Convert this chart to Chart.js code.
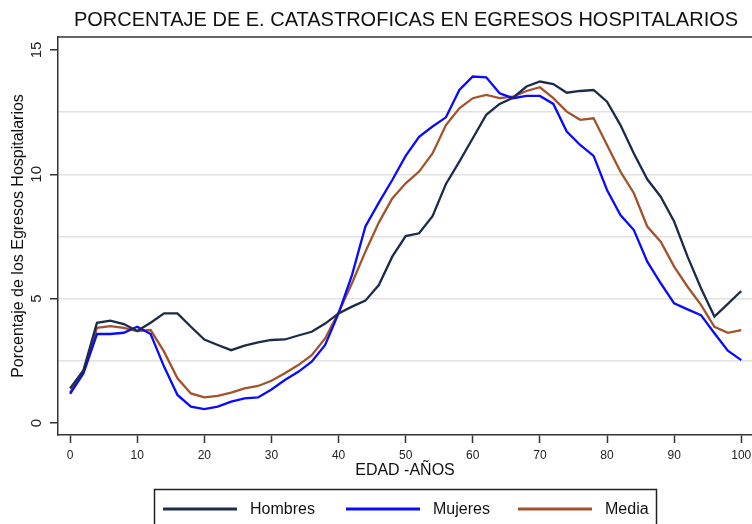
<!DOCTYPE html>
<html>
<head>
<meta charset="utf-8">
<script src="https://cdn.jsdelivr.net/npm/chart.js@4/dist/chart.umd.min.js"></script>
<style>
  html, body { margin: 0; padding: 0; background: #fff; overflow: hidden; }
  #wrap { width: 752px; height: 524px; }
  canvas { display: block; }
</style>
</head>
<body>
<div id="wrap"><canvas id="chart" width="752" height="524"></canvas></div>
<script>
const TITLE = "PORCENTAJE DE E. CATASTROFICAS EN EGRESOS HOSPITALARIOS";
const AGES = [0, 2, 4, 6, 8, 10, 12, 14, 16, 18, 20, 22, 24, 26, 28, 30, 32, 34, 36, 38, 40,
    42, 44, 46, 48, 50, 52, 54, 56, 58, 60, 62, 64, 66, 68, 70, 72, 74, 76, 78, 80,
    82, 84, 86, 88, 90, 92, 94, 96, 98, 100];
const HOMBRES = [1.39, 2.13, 4.03, 4.12, 3.98, 3.70, 4.03, 4.41, 4.41, 3.87, 3.36, 3.14, 2.93,
    3.11, 3.24, 3.34, 3.36, 3.52, 3.67, 4.0, 4.41, 4.68, 4.92, 5.55, 6.69, 7.52, 7.63, 8.32,
    9.61, 10.51, 11.45, 12.39, 12.83, 13.08, 13.53, 13.73, 13.63, 13.28, 13.35, 13.39, 12.92,
    11.98, 10.84, 9.8, 9.1, 8.1, 6.69, 5.42, 4.28, 4.79, 5.31];
const MUJERES = [1.17, 2.0, 3.58, 3.58, 3.63, 3.87, 3.58, 2.27, 1.13, 0.66, 0.56, 0.66, 0.86,
    0.99, 1.03, 1.35, 1.73, 2.06, 2.47, 3.14, 4.41, 5.95, 7.9, 8.86, 9.77, 10.74, 11.51, 11.92,
    12.29, 13.39, 13.93, 13.9, 13.26, 13.06, 13.15, 13.15, 12.83, 11.72, 11.18, 10.74, 9.37,
    8.36, 7.76, 6.49, 5.62, 4.81, 4.57, 4.34, 3.61, 2.91, 2.53];
const MEDIA = [1.22, 2.1, 3.83, 3.9, 3.83, 3.70, 3.74, 2.87, 1.8, 1.19, 1.03, 1.09, 1.22,
    1.39, 1.49, 1.7, 2.0, 2.33, 2.73, 3.4, 4.44, 5.62, 6.89, 8.06, 9.03, 9.64, 10.11, 10.84,
    11.98, 12.65, 13.06, 13.19, 13.06, 13.12, 13.35, 13.5, 13.06, 12.52, 12.19, 12.25, 11.18,
    10.11, 9.24, 7.9, 7.29, 6.29, 5.48, 4.75, 3.87, 3.63, 3.74];
const X_TICKS = [0, 10, 20, 30, 40, 50, 60, 70, 80, 90, 100];
const Y_GRID = [0, 2.5, 5, 7.5, 10, 12.5, 15];
const Y_LABELS = [0, 5, 10, 15];

const FONT = "'Liberation Sans', Arial, sans-serif";
const AXIS = "#333333";

function pts(vals) {
    return AGES.map(function (a, i) { return { x: a, y: vals[i] }; });
}

function line(label, vals, color) {
    return {
        label: label,
        data: pts(vals),
        borderColor: color,
        backgroundColor: color,
        borderWidth: 2.3,
        pointRadius: 0,
        tension: 0,
        fill: false,
    };
}

function noPad(s) {
    s.paddingLeft = 0;
    s.paddingRight = 0;
    s.paddingTop = 0;
    s.paddingBottom = 0;
}

// title, frame, rotated y labels and the boxed legend
const extras = {
    id: "extras",
    afterDraw: function (chart) {
        const ctx = chart.ctx;
        const area = chart.chartArea;
        const ys = chart.scales.y;
        ctx.save();

        ctx.strokeStyle = AXIS;
        ctx.lineWidth = 1.5;
        ctx.beginPath();
        ctx.moveTo(area.left, area.top);
        ctx.lineTo(area.right, area.top);
        ctx.stroke();

        ctx.fillStyle = "#111";
        ctx.font = "20px " + FONT;
        ctx.textAlign = "center";
        ctx.textBaseline = "middle";
        ctx.fillText(TITLE, 406, 20);

        ctx.font = "15px " + FONT;
        ctx.fillStyle = "#222";
        Y_LABELS.forEach(function (v) {
            ctx.save();
            ctx.translate(37, ys.getPixelForValue(v));
            ctx.rotate(-Math.PI / 2);
            ctx.fillText(String(v), 0, 0);
            ctx.restore();
        });

        // legend
        ctx.strokeStyle = "#222";
        ctx.lineWidth = 1.5;
        ctx.strokeRect(154.5, 489.5, 502, 50);
        const slots = [163, 346, 518];
        ctx.font = "16px " + FONT;
        ctx.textAlign = "left";
        chart.data.datasets.forEach(function (ds, i) {
            const x0 = slots[i];
            ctx.strokeStyle = ds.borderColor;
            ctx.lineWidth = 3;
            ctx.beginPath();
            ctx.moveTo(x0, 509);
            ctx.lineTo(x0 + 74, 509);
            ctx.stroke();
            ctx.fillStyle = "#111";
            ctx.fillText(ds.label, x0 + 87, 510);
        });
        ctx.restore();
    },
};

const ctx = document.getElementById("chart").getContext("2d");
const myChart = new Chart(ctx, {
    type: "line",
    data: {
        datasets: [
            line("Hombres", HOMBRES, "#1c2b4a"),
            line("Mujeres", MUJERES, "#0a0aff"),
            line("Media", MEDIA, "#a3532b"),
        ],
    },
    options: {
        responsive: false,
        animation: false,
        layout: { autoPadding: false, padding: { top: 37, left: 0, right: 0, bottom: 0 } },
        plugins: {
            legend: { display: false },
            title: { display: false },
            tooltip: { enabled: false },
        },
        scales: {
            x: {
                type: "linear",
                min: -1.8,
                max: 101.6,
                afterBuildTicks: function (s) {
                    s.ticks = X_TICKS.map(function (v) { return { value: v }; });
                },
                afterFit: function (s) { s.height = 89; noPad(s); },
                grid: {
                    drawOnChartArea: false,
                    drawTicks: true,
                    tickLength: 8,
                    tickColor: AXIS,
                    tickWidth: 1.5,
                },
                border: { display: true, color: AXIS, width: 1.5 },
                ticks: {
                    padding: 5,
                    color: "#222",
                    font: { family: FONT, size: 12 },
                    maxRotation: 0,
                    autoSkip: false,
                },
                title: {
                    display: true,
                    text: "EDAD -AÑOS",
                    color: "#111",
                    font: { family: FONT, size: 16 },
                    padding: { top: 0, bottom: 44 },
                },
            },
            y: {
                min: -0.48,
                max: 15.52,
                afterBuildTicks: function (s) {
                    s.ticks = Y_GRID.map(function (v) { return { value: v }; });
                },
                afterFit: function (s) { s.width = 58; noPad(s); },
                grid: {
                    drawTicks: true,
                    tickLength: 8,
                    lineWidth: 1.5,
                    tickWidth: 1.5,
                    color: function (c) {
                        const v = c.tick ? c.tick.value : 0;
                        return (v === 0 || v === 15) ? "rgba(0,0,0,0)" : "#e2e2e2";
                    },
                    tickColor: function (c) {
                        const v = c.tick ? c.tick.value : 1;
                        return Y_LABELS.indexOf(v) >= 0 ? AXIS : "rgba(0,0,0,0)";
                    },
                },
                border: { display: true, color: AXIS, width: 1.5 },
                ticks: { display: false },
                title: {
                    display: true,
                    text: "Porcentaje de los Egresos Hospitalarios",
                    color: "#111",
                    font: { family: FONT, size: 16 },
                    padding: { top: 9, bottom: 0 },
                },
            },
        },
    },
    plugins: [extras],
});
</script>
</body>
</html>
